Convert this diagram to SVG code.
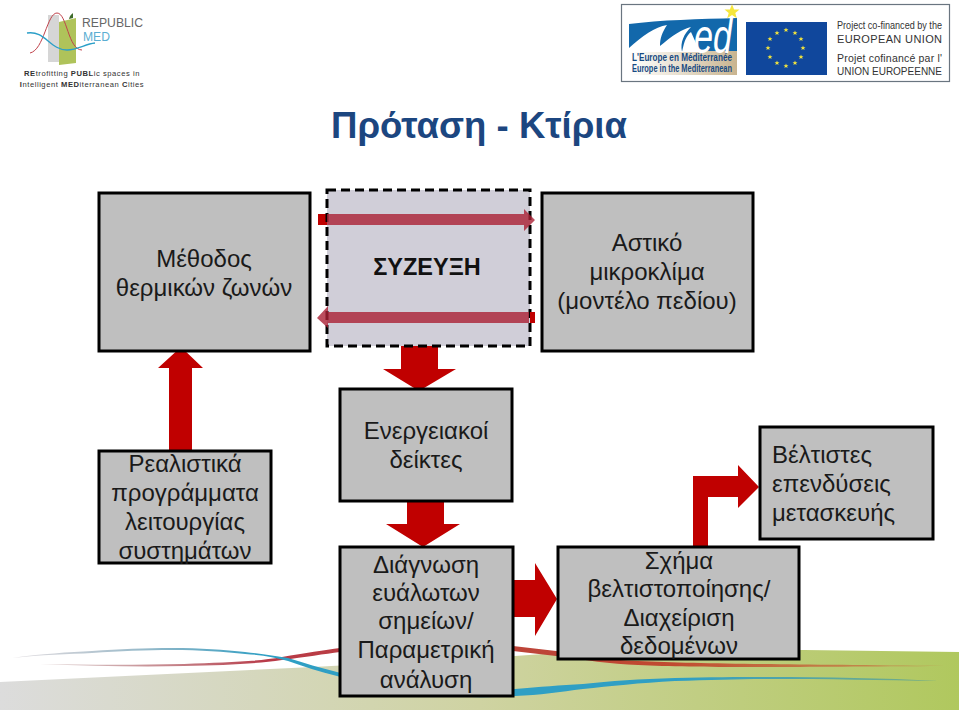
<svg xmlns="http://www.w3.org/2000/svg" width="959" height="713" viewBox="0 0 959 713">
<style>
text{font-family:"Liberation Sans",Arial,sans-serif}
.n{fill:#bfbfbf;stroke:#000;stroke-width:3}
.t{font-size:24px;fill:#1a1a1a;text-anchor:middle}
.s{text-anchor:start}
.a{fill:#c00000}
.o{fill:#aa2035;fill-opacity:.8}
.l{fill:#333;font-size:10.500px}
.c{fill:#333;font-size:11px}
.m{fill:#174a82;font-size:10px;font-weight:700}
.r{fill:#333;font-size:7.600px;text-anchor:middle;letter-spacing:.55px}
</style>
<defs>
<linearGradient id="g" x1="0" x2="1" y1="0" y2="0"><stop offset="0" stop-color="#dcdcdc"/><stop offset="0.5" stop-color="#cfd3a2"/><stop offset="1" stop-color="#b0c85e"/></linearGradient>
<linearGradient id="tan" x1="0" x2="1" y1="0" y2="0"><stop offset="0" stop-color="#fff"/><stop offset="0.35" stop-color="#eee8dc"/><stop offset="1" stop-color="#c9b48f"/></linearGradient>
<linearGradient id="fade" x1="0" x2="1" y1="0" y2="0"><stop offset="0" stop-color="#9a8f9a" stop-opacity=".3"/><stop offset="0.27" stop-color="#2f9fc4"/><stop offset="0.72" stop-color="#2f9fc4"/><stop offset="1" stop-color="#4a9a9a" stop-opacity=".6"/></linearGradient>
<linearGradient id="fader" x1="0" x2="1" y1="0" y2="0"><stop offset="0" stop-color="#a88" stop-opacity=".4"/><stop offset="0.25" stop-color="#b83a48"/><stop offset="0.7" stop-color="#c04a30"/><stop offset="1" stop-color="#c87a40" stop-opacity=".6"/></linearGradient>
<polygon id="star" points="0,-2.600 .7,-.8 2.500,-.8 1.100,.3 1.600,2.100 0,1 -1.600,2.100 -1.100,.3 -2.500,-.8 -.7,-.8" fill="#f5e63c"/>
</defs>
<rect width="959" height="713" fill="#fff"/>
<g id="background">
<polygon points="0,682 313,667 515,656 557,653 804,650 959,652 959,710 0,710" fill="url(#g)"/>
<path d="M40,664 C90,665 140,665 184,664 C225,662 255,662 282,657 C305,653 325,650 340,648 C400,642 470,644 513,646 L556,651 C585,656 610,660 638,661 C700,664 780,664 945,666 C780,667 700,668 638,665 C610,664 585,660 556,656 L513,651 C470,648 400,648 340,652 C325,654 305,657 282,660 C255,664 225,665 184,666 C140,667 90,666 40,664Z" fill="url(#fader)"/>
<path d="M12,658 C40,654 70,652 92,651 C120,649 145,648 172,648 C200,648 225,650 245,652 C262,654 275,656 288,658 C305,663 320,668 337,672 C390,690 460,695 515,689 C540,687 560,685 583,684 C610,681 640,679 675,678 C710,677 740,677 767,677 C830,677 880,678 939,681 C880,680 830,679 767,679 C740,679 710,680 675,681 C640,683 610,686 583,689 C560,692 540,695 515,696 C460,700 390,694 337,676 C320,672 305,667 288,661 C275,657 262,655 245,654 C225,652 200,650 172,650 C145,650 120,651 92,653 C70,654 40,655 12,658Z" fill="url(#fade)"/>
</g>
<g id="logo-republic-med">
<rect x="48" y="15" width="11" height="47" fill="#d6d6d6"/>
<polygon points="59,22 76,18 76,63 59,65" fill="#afc35a"/>
<path d="M69,19 C70,15 72,14 73,13 L73,18Z" fill="#3e6a2b"/>
<path d="M30,53 C44,50 47,13 57,13 C67,13 68,50 82,50" fill="none" stroke="#c0414a" stroke-width="1"/>
<path d="M27,33 C45,30 50,50 67,50 C78,50 85,44 95,43" fill="none" stroke="#2b9fc8" stroke-width="1.400"/>
<text x="82" y="27" font-size="12.500" fill="#666" textLength="61" lengthAdjust="spacingAndGlyphs">REPUBLIC</text>
<text x="83" y="41" font-size="12.500" fill="#5aaed2" textLength="27" lengthAdjust="spacingAndGlyphs">MED</text>
<text class="r" x="82" y="76"><tspan font-weight="700">RE</tspan>trofitting <tspan font-weight="700">PUBL</tspan>ic spaces in</text>
<text class="r" x="82" y="87"><tspan font-weight="700">I</tspan>ntelligent <tspan font-weight="700">MED</tspan>iterranean <tspan font-weight="700">C</tspan>ities</text>
</g>
<g id="logo-eu">
<rect x="621.500" y="4.500" width="328" height="77" fill="#fff" stroke="#6a7580" stroke-width="1.200"/>
<rect x="629" y="50" width="108" height="25" fill="url(#tan)"/>
<path d="M629,24 C660,20 700,19 737,18 L737,51 L629,51Z" fill="#1268ab"/>
<path d="M629,48 C642,36 655,27 667,25 C662,33 660,38 660,46 C672,36 682,29 691,27 C684,34 680,42 682,52 L629,52Z" fill="#fff"/>
<path d="M682,52 C684,42 686,36 691,32 L700,52Z" fill="#fff"/>
<text x="694" y="53" font-size="48" font-style="italic" fill="#fff" textLength="38" lengthAdjust="spacingAndGlyphs">ed</text>
<use href="#star" transform="translate(732 12) scale(3)" style="fill:#f2d83b"/>
<text class="m" x="632" y="61" textLength="100" lengthAdjust="spacingAndGlyphs">L'Europe en Méditerranée</text>
<text class="m" x="632" y="72" textLength="100" lengthAdjust="spacingAndGlyphs">Europe in the Mediterranean</text>
<rect x="746" y="22" width="81" height="53" fill="#10479c"/>
<use href="#star" x="786" y="30"/><use href="#star" x="795" y="33"/><use href="#star" x="801" y="39"/><use href="#star" x="803" y="48"/><use href="#star" x="801" y="57"/><use href="#star" x="795" y="63"/><use href="#star" x="786" y="66"/><use href="#star" x="777" y="63"/><use href="#star" x="770" y="57"/><use href="#star" x="768" y="48"/><use href="#star" x="770" y="39"/><use href="#star" x="777" y="33"/>
<text class="l" x="837" y="29" textLength="105" lengthAdjust="spacingAndGlyphs">Project co-financed by the</text>
<text class="c" x="837" y="43" textLength="105">EUROPEAN UNION</text>
<text class="l" x="837" y="62" textLength="105">Projet cofinancé par l'</text>
<text class="c" x="837" y="75" textLength="105" lengthAdjust="spacingAndGlyphs">UNION EUROPEENNE</text>
</g>
<text id="title" x="331" y="138" font-size="36" font-weight="700" fill="#1c4680" textLength="296" lengthAdjust="spacingAndGlyphs">Πρόταση - Κτίρια</text>
<g id="connectors">
<polygon class="a" points="169,450 169,368 158,368 181,347 203,368 192,368 192,450"/>
<rect class="a" x="318" y="214" width="10" height="11"/>
<polygon class="a" points="401,346 438,346 438,369 456,369 419,391 383,369 401,369"/>
<polygon class="a" points="407,501 444,501 444,524 460,524 423,547 386,524 407,524"/>
<polygon class="a" points="513,580 535,580 535,563 557,599 535,636 535,617 513,617"/>
<polygon class="a" points="693,547 693,476 738,476 738,465 759,487 738,508 738,497 708,497 708,547"/>
</g>
<g id="node-thermal"><rect class="n" x="99" y="193" width="211" height="158"/><text class="t" x="204" y="267">Μέθοδος</text><text class="t" x="204" y="296">θερμικών ζωνών</text></g>
<g id="node-urban"><rect class="n" x="542" y="193" width="211" height="158"/><text class="t" x="647" y="251">Αστικό</text><text class="t" x="647" y="280">μικροκλίμα</text><text class="t" x="647" y="309">(μοντέλο πεδίου)</text></g>
<g id="node-coupling"><rect x="327" y="190" width="203" height="156" fill="#d0ced8" stroke="#000" stroke-width="3" stroke-dasharray="9 5"/>
<text x="427" y="275" font-size="23.500" font-weight="700" fill="#111" text-anchor="middle">ΣΥΖΕΥΞΗ</text></g>
<g id="coupling-arrows">
<polygon class="o" points="327,214 524,214 524,209 535,220 524,231 524,225 327,225"/>
<polygon class="o" points="529,312 529,323 328,323 328,328 317,318 328,306 328,312"/>
<rect class="a" x="530" y="312" width="5" height="11"/>
</g>
<g id="node-realistic"><rect class="n" x="99" y="451" width="172" height="112"/><text class="t" x="185" y="472">Ρεαλιστικά</text><text class="t" x="185" y="501">προγράμματα</text><text class="t" x="185" y="530">λειτουργίας</text><text class="t" x="185" y="559">συστημάτων</text></g>
<g id="node-indicators"><rect class="n" x="340" y="389" width="172" height="112"/><text class="t" x="426" y="439">Ενεργειακοί</text><text class="t" x="426" y="468">δείκτες</text></g>
<g id="node-diagnosis"><rect class="n" x="340" y="547" width="173" height="149"/><text class="t" x="426" y="573">Διάγνωση</text><text class="t" x="426" y="601">ευάλωτων</text><text class="t" x="426" y="629">σημείων/</text><text class="t" x="426" y="658">Παραμετρική</text><text class="t" x="426" y="688">ανάλυση</text></g>
<g id="node-scheme"><rect class="n" x="558" y="547" width="241" height="112"/><text class="t" x="679" y="569">Σχήμα</text><text class="t" x="679" y="597">βελτιστοποίησης/</text><text class="t" x="679" y="626">Διαχείριση</text><text class="t" x="679" y="654">δεδομένων</text></g>
<g id="node-best"><rect class="n" x="760" y="427" width="173" height="112"/><text class="t s" x="772" y="463">Βέλτιστες</text><text class="t s" x="772" y="492">επενδύσεις</text><text class="t s" x="772" y="521">μετασκευής</text></g>
</svg>
